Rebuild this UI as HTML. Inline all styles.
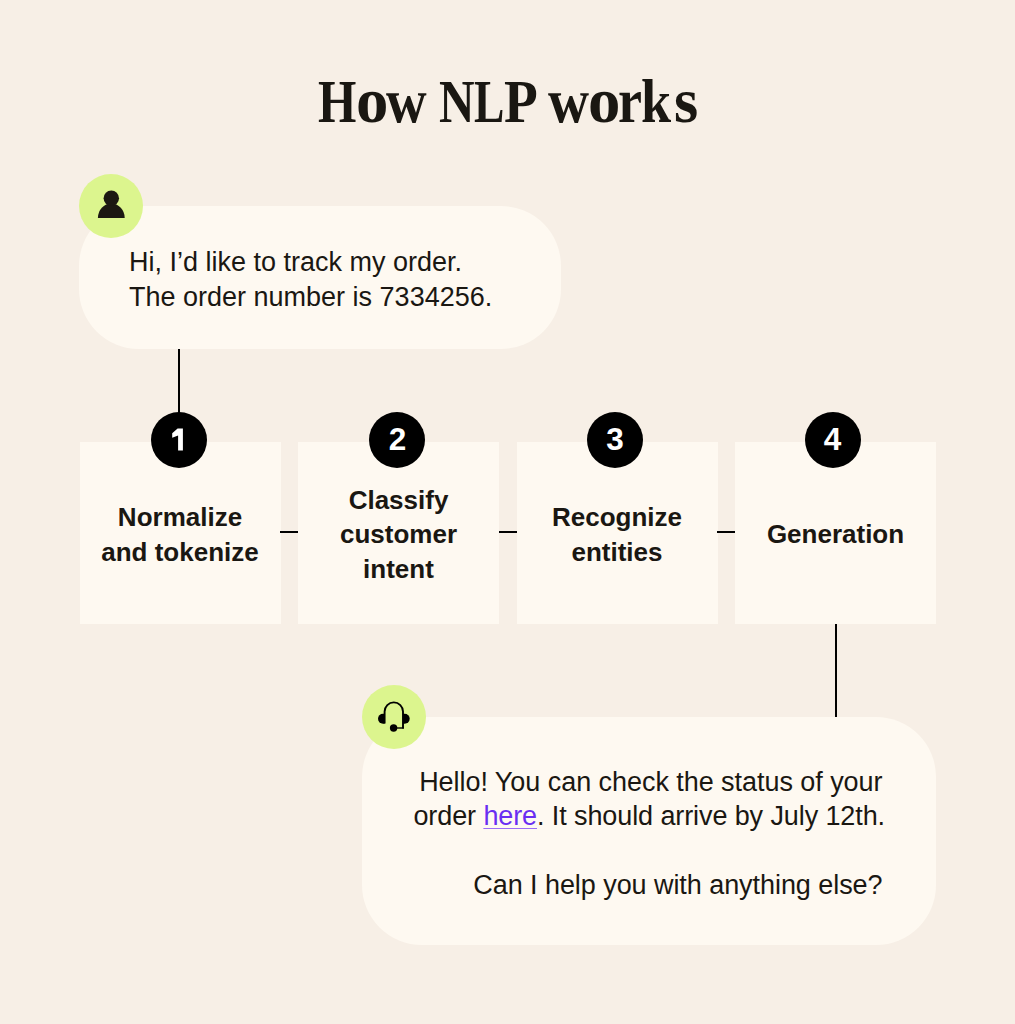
<!DOCTYPE html>
<html><head><meta charset="utf-8">
<style>
html,body{margin:0;padding:0;}
body{-webkit-font-smoothing:antialiased;width:1015px;height:1024px;background:#F7EFE6;position:relative;overflow:hidden;font-family:"Liberation Sans",sans-serif;color:#1A1712;}
.abs{position:absolute;}
.tg{position:absolute;top:72px;font-family:"Liberation Serif",serif;font-weight:bold;font-size:61px;line-height:60px;white-space:nowrap;transform-origin:0 50px;}
.bubble{position:absolute;background:#FEF9F1;border-radius:60px;}
.avatar{position:absolute;width:64px;height:64px;border-radius:50%;background:#DCF58E;}
.txt{position:absolute;font-size:27px;line-height:34.5px;white-space:nowrap;}
.box{position:absolute;top:442px;height:182px;width:201px;background:#FEF9F1;display:flex;align-items:center;justify-content:center;text-align:center;font-weight:bold;font-size:26px;line-height:34.5px;box-sizing:border-box;padding-top:3px;}
.num{position:absolute;top:412px;width:56px;height:56px;border-radius:50%;background:#000;color:#fff;font-weight:bold;font-size:31.5px;line-height:55px;text-align:center;}
.hl{position:absolute;top:530.5px;height:2px;background:#000;}
.vl{position:absolute;width:2px;background:#000;}
a{color:#6A2EF2;text-decoration:underline;text-decoration-thickness:1px;text-decoration-color:#9B6CF6;text-underline-offset:2.5px;}
</style></head>
<body>
<div class="tg" style="left:318.09px;transform:scale(0.809,1.0);">H</div>
<div class="tg" style="left:355.68px;transform:scale(1.062,1.05);">o</div>
<div class="tg" style="left:385.90px;transform:scale(0.923,1.04);">w</div>
<div class="tg" style="left:439.09px;transform:scale(0.807,1.0);">N</div>
<div class="tg" style="left:473.85px;transform:scale(0.746,1.0);">L</div>
<div class="tg" style="left:503.59px;transform:scale(0.906,1.0);">P</div>
<div class="tg" style="left:547.90px;transform:scale(0.932,1.04);">w</div>
<div class="tg" style="left:588.28px;transform:scale(1.062,1.05);">o</div>
<div class="tg" style="left:617.83px;transform:scale(0.887,1.05);">r</div>
<div class="tg" style="left:641.43px;transform:scale(0.887,1.0);">k</div>
<div class="tg" style="left:673.56px;transform:scale(1.020,1.05);">s</div>

<div class="bubble" style="left:79px;top:206px;width:482px;height:143px;"></div>
<div class="avatar" style="left:79.3px;top:173.5px;"></div>
<svg class="abs" style="left:0;top:0;" width="1015" height="1024" viewBox="0 0 1015 1024">
<path d="M97.9 217.9 A13.4 14.5 0 0 1 124.7 217.9 Z" fill="#1C1812"/>
<circle cx="111.3" cy="198.2" r="7.7" fill="#1C1812"/>
</svg>
<div class="txt" style="left:129px;top:245px;">Hi, I’d like to track my order.<br>The order number is 7334256.</div>

<div class="vl" style="left:178.1px;top:349px;height:64px;"></div>

<div class="box" style="left:79.5px;">Normalize<br>and tokenize</div>
<div class="box" style="left:298px;">Classify<br>customer<br>intent</div>
<div class="box" style="left:516.5px;">Recognize<br>entities</div>
<div class="box" style="left:735px;">Generation</div>

<div class="hl" style="left:280px;width:18px;"></div>
<div class="hl" style="left:498.5px;width:18px;"></div>
<div class="hl" style="left:717px;width:18px;"></div>

<div class="num" style="left:151.3px;"></div>
<svg class="abs" style="left:0;top:0;" width="1015" height="1024" viewBox="0 0 1015 1024"><path d="M182.9 428.5 V450.5 H178.1 V435.6 L172.2 437.8 V433.2 L177.6 428.5 Z" fill="#fff"/></svg>
<div class="num" style="left:369.4px;">2</div>
<div class="num" style="left:586.9px;">3</div>
<div class="num" style="left:804.6px;">4</div>

<div class="vl" style="left:834.5px;top:624px;height:93px;"></div>

<div class="bubble" style="left:362px;top:717px;width:573.5px;height:228px;"></div>
<div class="avatar" style="left:361.6px;top:685px;"></div>
<svg class="abs" style="left:0;top:0;" width="1015" height="1024" viewBox="0 0 1015 1024">
<path d="M384.6 723.6 V711.6 A9.2 9.2 0 0 1 403 711.6 V728.6" fill="none" stroke="#000" stroke-width="1.9"/>
<path d="M403.9 728 H396" fill="none" stroke="#000" stroke-width="1.4"/>
<path d="M384.6 713.8 H383 A5 5 0 0 0 383 723.8 H384.6 Z" fill="#000"/>
<path d="M403 713.8 H404.7 A5 5 0 0 1 404.7 723.8 H403 Z" fill="#000"/>
<circle cx="393.6" cy="728" r="3.7" fill="#000"/>
</svg>
<div class="txt" style="right:132.5px;top:764.7px;text-align:right;"><span style="letter-spacing:-0.05px">Hello! You can check the status of your</span><br><span style="letter-spacing:-0.1px;position:relative;left:2.5px;">order <a>here</a>. It should arrive by July 12th.</span><br><br><span style="letter-spacing:-0.06px">Can I help you with anything else?</span></div>

</body></html>
